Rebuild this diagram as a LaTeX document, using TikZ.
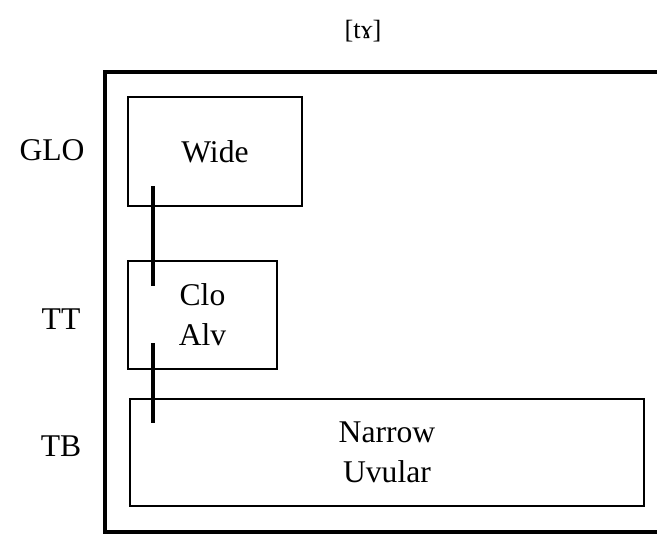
\documentclass[tikz,border=0pt]{standalone}
\usepackage{fontspec}
\setmainfont{Liberation Serif}
\usepackage{tikz}

\begin{document}
\begin{tikzpicture}[x=0.02cm,y=-0.02cm,font=\fontsize{18}{22.7}\selectfont]
\tikzstyle{gesture}=[draw, line width=1.1pt, align=center, inner sep=0pt]
\tikzstyle{tier}=[anchor=center]
\tikzstyle{assoc}=[line width=2.6pt]
\useasboundingbox (0,0) rectangle (657,534);
\node[font=\fontsize{15}{18}\selectfont] (title) at (363,31) {[tɤ]};
% outer frame, open on the right
\draw[line width=2.6pt] (680,72) -- (105,72) -- (105,532) -- (680,532);
\node[tier] (glo) at (52,150) {GLO};
\node[tier] (tt) at (61,319) {TT};
\node[tier] (tb) at (61,446) {TB};
\node[gesture, minimum width=3.48cm, minimum height=2.18cm] (wide) at (215,151.5) {Wide};
\node[gesture, minimum width=2.98cm, minimum height=2.16cm] (clo) at (202.5,315) {Clo\\Alv};
\node[gesture, minimum width=10.28cm, minimum height=2.14cm] (narrow) at (387,452.5) {Narrow\\Uvular};
\coordinate (a1) at (153,186);
\coordinate (a2) at (153,286);
\coordinate (b1) at (153,343);
\coordinate (b2) at (153,423);
\draw[assoc] (a1) -- (a2);
\draw[assoc] (b1) -- (b2);
\end{tikzpicture}
\end{document}
